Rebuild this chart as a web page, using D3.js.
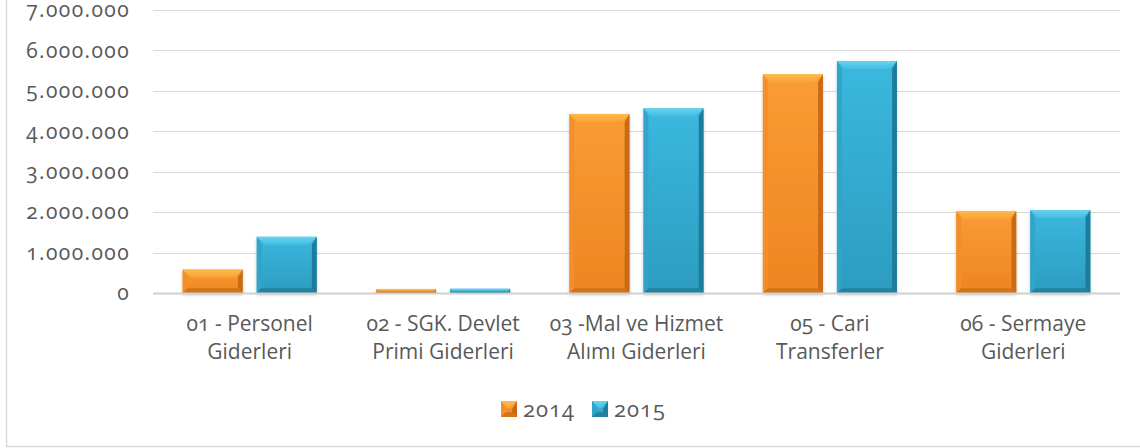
<!DOCTYPE html>
<html lang="tr">
	<head>
		<meta charset="utf-8">
		<title>Giderler 2014 - 2015</title>
		<script src="https://d3js.org/d3.v7.min.js"></script>
		<style type="text/css">
			body { margin: 0; background: #fff; }
			svg text {
				font-family: "Open Sans", sans-serif;
				font-weight: 400;
				font-variant-numeric: oldstyle-nums;
				font-feature-settings: "onum";
				fill: #595959;
			}
			.grid line { stroke: #d9d9d9; stroke-width: 1; shape-rendering: crispEdges; }
		</style>
	</head>
	<body>
		<script type="text/javascript">
			//Data
			var categories = [
				["01 - Personel", "Giderleri"],
				["02 - SGK. Devlet", "Primi Giderleri"],
				["03 -Mal ve Hizmet", "Alımı Giderleri"],
				["05 - Cari", "Transferler"],
				["06 - Sermaye", "Giderleri"]
			];
			var seriesNames = ["2014", "2015"];
			var values2014 = [580000, 100000, 4430000, 5410000, 2030000];
			var values2015 = [1390000, 105000, 4570000, 5740000, 2050000];
			var yTicks = [0, 1000000, 2000000, 3000000, 4000000, 5000000, 6000000, 7000000];

			var w = 1140;
			var h = 448;
			var plotLeft = 153, plotRight = 1120, plotTop = 10, plotBottom = 293;

			//colours for each series: gradient, light top, side, dark edge
			var palette = {
				"2014": { top: "#fa9c33", bottom: "#ee8521", light: "#fdbb4a", light2: "#f9a236", side: "#f38f2a", dark: "#c96b15", low: "#d47319" },
				"2015": { top: "#3bb8de", bottom: "#2c9cc1", light: "#6ad2ee", light2: "#42bde2", side: "#31a3c9", dark: "#1f7c9b", low: "#23839f" }
			};

			var svg = d3.select("body")
						.append("svg")
						.attr("width", w)
						.attr("height", h);

			var defs = svg.append("defs");
			seriesNames.forEach(function(s) {
				var g = defs.append("linearGradient")
					.attr("id", "grad" + s)
					.attr("x1", 0).attr("y1", 0).attr("x2", 0).attr("y2", 1);
				g.append("stop").attr("offset", "0%").attr("stop-color", palette[s].top);
				g.append("stop").attr("offset", "100%").attr("stop-color", palette[s].bottom);
				var t = defs.append("linearGradient")
					.attr("id", "bevel" + s)
					.attr("x1", 0).attr("y1", 0).attr("x2", 0).attr("y2", 1);
				t.append("stop").attr("offset", "0%").attr("stop-color", palette[s].light);
				t.append("stop").attr("offset", "100%").attr("stop-color", palette[s].light2);
			});
			var shadow = defs.append("filter").attr("id", "shadow")
				.attr("x", "-20%").attr("y", "-20%").attr("width", "140%").attr("height", "140%");
			shadow.append("feDropShadow")
				.attr("dx", 0).attr("dy", 2).attr("stdDeviation", 1.5)
				.attr("flood-color", "#000").attr("flood-opacity", 0.22);

			//Frame
			svg.append("rect")
				.attr("x", 6.5).attr("y", -20)
				.attr("width", w + 20).attr("height", 446.5 + 20)
				.attr("fill", "none")
				.attr("stroke", "#d9d9d9")
				.attr("stroke-width", 1.5);

			//Scales
			var xScale = d3.scaleBand()
				.domain(d3.range(categories.length))
				.range([plotLeft, plotRight])
				.paddingInner(0.307)
				.paddingOuter(0.1535);
			var xInner = d3.scaleBand()
				.domain(seriesNames)
				.range([0, xScale.bandwidth()])
				.paddingInner(0.19);
			var yScale = d3.scaleLinear()
				.domain([0, 7000000])
				.range([plotBottom, plotTop]);

			var fmt = d3.formatLocale({ decimal: ",", thousands: ".", grouping: [3], currency: ["", ""] }).format(",d");

			//Gridlines
			var grid = svg.append("g").attr("class", "grid");
			grid.selectAll("line")
				.data(yTicks.filter(function(d) { return d > 0; }))
				.enter()
				.append("line")
				.attr("x1", plotLeft).attr("x2", plotRight)
				.attr("y1", function(d) { return Math.round(yScale(d)) + 0.5; })
				.attr("y2", function(d) { return Math.round(yScale(d)) + 0.5; });

			//Y axis labels
			var yAxis = d3.axisLeft(yScale)
				.tickValues(yTicks)
				.tickFormat(fmt)
				.tickSize(0)
				.tickPadding(0);
			var yg = svg.append("g")
				.attr("transform", "translate(130,0)")
				.call(yAxis)
				.attr("font-family", null)
				.attr("font-size", null);
			yg.select(".domain").remove();
			yg.selectAll("text")
				.attr("font-size", "21px")
				.attr("letter-spacing", "1.4px")
				.attr("dy", "0.32em")
				.attr("fill", null);

			//Bars
			var rows = seriesNames.map(function(s, si) {
				var vals = si === 0 ? values2014 : values2015;
				return vals.map(function(v, i) { return { s: s, i: i, v: v }; });
			});
			var bars = svg.append("g").attr("id", "bars");

			function bevelBar(g, x, y, bw, bh, s) {
				var p = palette[s];
				var b = Math.min(8, bh / 2, bw / 2);
				var e = b * 0.6;
				g.append("rect")
					.attr("x", x).attr("y", y).attr("width", bw).attr("height", bh)
					.attr("fill", "url(#grad" + s + ")");
				//top bevel
				g.append("path")
					.attr("d", "M" + x + "," + y + "L" + (x + bw) + "," + y + "L" + (x + bw - b) + "," + (y + b) + "L" + (x + b) + "," + (y + b) + "Z")
					.attr("fill", "url(#bevel" + s + ")");
				//left bevel
				g.append("path")
					.attr("d", "M" + x + "," + y + "L" + (x + e) + "," + (y + b) + "L" + (x + e) + "," + (y + bh - e) + "L" + x + "," + (y + bh) + "Z")
					.attr("fill", p.side);
				//right bevel
				g.append("path")
					.attr("d", "M" + (x + bw) + "," + y + "L" + (x + bw - e) + "," + (y + b) + "L" + (x + bw - e) + "," + (y + bh - e) + "L" + (x + bw) + "," + (y + bh) + "Z")
					.attr("fill", p.dark);
				//bottom bevel
				g.append("path")
					.attr("d", "M" + x + "," + (y + bh) + "L" + (x + e) + "," + (y + bh - e) + "L" + (x + bw - e) + "," + (y + bh - e) + "L" + (x + bw) + "," + (y + bh) + "Z")
					.attr("fill", p.low);
			}

			rows.forEach(function(row) {
				row.forEach(function(d) {
					var x = xScale(d.i) + xInner(d.s);
					var y = yScale(d.v);
					var g = bars.append("g").attr("filter", "url(#shadow)");
					bevelBar(g, x, y, xInner.bandwidth(), yScale(0) - y, d.s);
				});
			});

			//Zero line
			svg.append("line")
				.attr("x1", plotLeft).attr("x2", plotRight)
				.attr("y1", yScale(0) + 0.5).attr("y2", yScale(0) + 0.5)
				.attr("stroke", "#d0d0d0")
				.attr("stroke-width", 2);

			//Category labels
			var cat = svg.append("g").selectAll("text")
				.data(categories)
				.enter()
				.append("text")
				.attr("text-anchor", "middle")
				.attr("font-size", "21px")
				.attr("x", function(d, i) { return xScale(i) + xScale.bandwidth() / 2; })
				.attr("y", 331);
			cat.selectAll("tspan")
				.data(function(d) { return d; })
				.enter()
				.append("tspan")
				.attr("x", function() { return d3.select(this.parentNode).attr("x"); })
				.attr("dy", function(d, i) { return i === 0 ? 0 : 28; })
				.text(function(d) { return d; });

			//Legend
			var legendX = [501, 592];
			var legend = svg.append("g").selectAll("g")
				.data(seriesNames)
				.enter()
				.append("g");
			legend.each(function(s, i) {
				var g = d3.select(this);
				bevelBar(g, legendX[i], 401, 16, 16, s);
				g.append("text")
					.attr("x", legendX[i] + 22)
					.attr("y", 416.5)
					.attr("font-size", "22px")
					.attr("letter-spacing", "1px")
					.text(s);
			});
		</script>
	</body>
</html>
